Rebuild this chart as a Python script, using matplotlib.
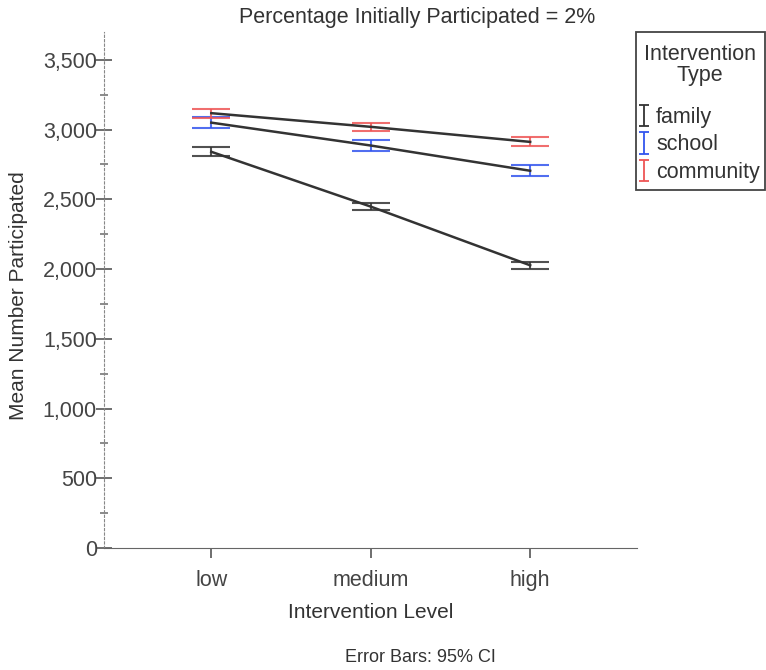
import matplotlib.pyplot as plt
from matplotlib.patches import Rectangle
from matplotlib.ticker import MultipleLocator, FuncFormatter

plt.rcParams['font.family'] = ['Liberation Sans', 'DejaVu Sans']

levels = ['low', 'medium', 'high']
groups = ['family', 'school', 'community']
colors = ['#333333', '#3355ee', '#ee5555']

# means and 95% CI bounds
means = {
    'family': [2841, 2448, 2027],
    'school': [3050, 2886, 2705],
    'community': [3118, 3020, 2912],
}
lower = {
    'family': [2809, 2422, 2004],
    'school': [3012, 2844, 2664],
    'community': [3086, 2990, 2880],
}
upper = {
    'family': [2873, 2474, 2049],
    'school': [3091, 2928, 2747],
    'community': [3150, 3050, 2945],
}

W, H = 766, 670
fig = plt.figure(figsize=(W / 100, H / 100), dpi=100)
ax = fig.add_axes([104.5 / W, 1 - 548 / H, (637 - 104.5) / W, (548 - 32) / H])

x = list(range(len(levels)))
handles = []
for g, c in zip(groups, colors):
    m = means[g]
    yerr = [[mi - lo for mi, lo in zip(m, lower[g])],
            [hi - mi for mi, hi in zip(m, upper[g])]]
    ax.errorbar(x, m, yerr=yerr, fmt='none', ecolor=c, elinewidth=1.5,
                capsize=14, capthick=1.5, alpha=0.85, zorder=2)
    ax.plot(x, m, color='#333333', lw=1.8, zorder=3)
    # small proxy for the legend
    h = ax.errorbar([float('nan')], [float('nan')], yerr=[1], fmt='none',
                    ecolor=c, elinewidth=1.3, capsize=3.5, capthick=1.3)
    handles.append(h)

ax.set_xlim(-0.67, 2.67)
ax.set_ylim(0, 3700)
ax.set_xticks(x)
ax.set_xticklabels(levels)
ax.yaxis.set_major_locator(MultipleLocator(500))
ax.yaxis.set_minor_locator(MultipleLocator(250))
ax.yaxis.set_major_formatter(FuncFormatter(lambda v, p: f'{int(v):,}'))

for s in ['top', 'right']:
    ax.spines[s].set_visible(False)
ax.spines['left'].set_linestyle((0, (2, 2)))
ax.spines['left'].set_color('#888888')
ax.spines['bottom'].set_color('#666666')
ax.tick_params(axis='y', which='major', direction='inout', length=11, width=1.2,
               color='#555555', labelsize=15.5, labelcolor='#444444', pad=0)
ax.tick_params(axis='y', which='minor', direction='inout', length=6, width=1.2,
               color='#777777')
ax.tick_params(axis='x', direction='out', length=7, width=1.2, color='#555555',
               labelsize=15.5, labelcolor='#444444', pad=9)

ax.set_ylabel('Mean Number Participated', fontsize=15, color='#333333')
ax.yaxis.set_label_coords(-0.143, 0.49)
ax.set_xlabel('Intervention Level', fontsize=15, color='#333333')
ax.xaxis.set_label_coords(0.5, -(603 - 548) / 516)

fig.text(417 / W, 1 - 18 / H, 'Percentage Initially Participated = 2%',
         ha='center', va='center', fontsize=15.5, color='#333333')
fig.text(420 / W, 1 - 657 / H, 'Error Bars: 95% CI',
         ha='center', va='center', fontsize=13, color='#333333')

# legend box with a centred two-line title
fig.patches.append(Rectangle((636 / W, 1 - 190 / H), (765 - 636) / W, (190 - 32) / H,
                             transform=fig.transFigure, fill=False,
                             edgecolor='#444444', lw=1.3))
fig.text(700 / W, 1 - 55 / H, 'Intervention', ha='center', va='center',
         fontsize=15.5, color='#333333')
fig.text(700 / W, 1 - 76 / H, 'Type', ha='center', va='center',
         fontsize=15.5, color='#333333')
leg = fig.legend(handles, groups, loc='upper left',
                 bbox_to_anchor=(639 / W, 1 - 107 / H), frameon=False,
                 fontsize=15.5, handlelength=0.5, handletextpad=0.3,
                 borderpad=0, labelspacing=0.3, borderaxespad=0)
for t in leg.get_texts():
    t.set_color('#333333')

fig.savefig('out.png', dpi=100)
